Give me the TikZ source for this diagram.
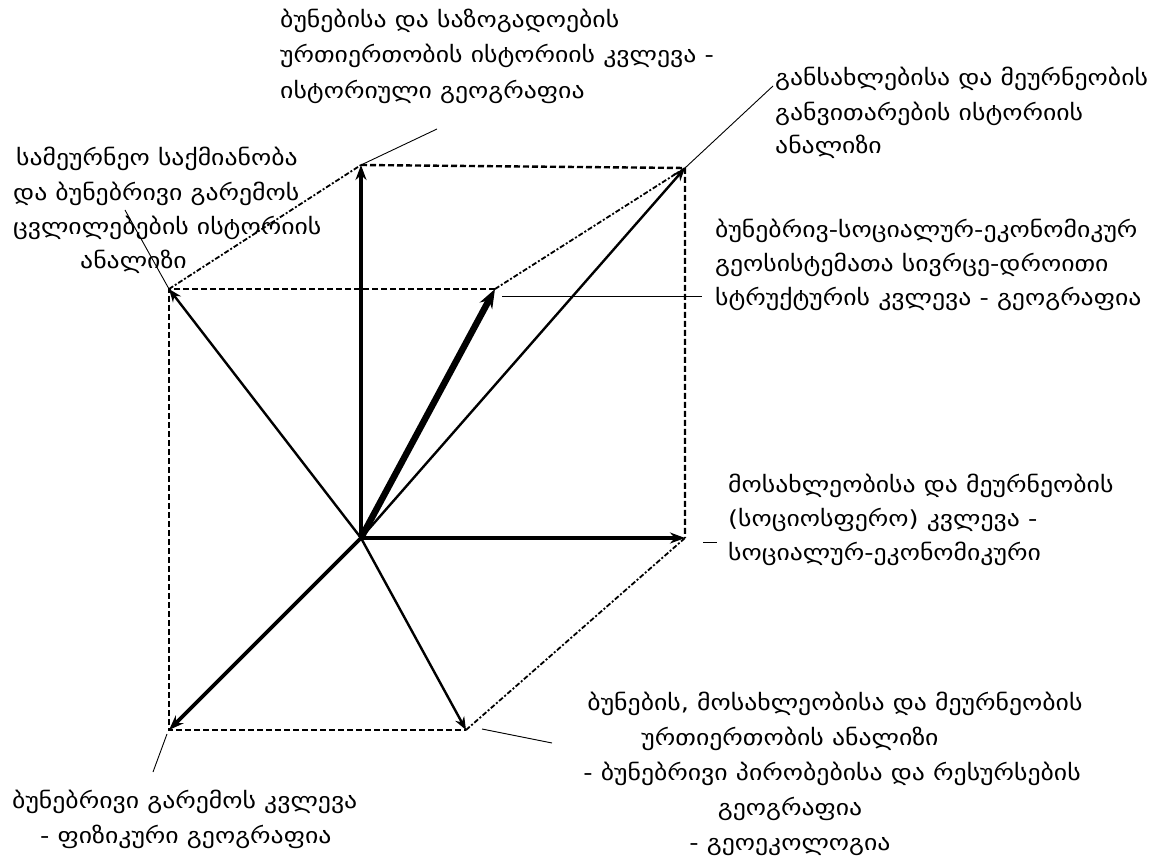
\documentclass[tikz,border=0pt]{standalone}
\usepackage{fontspec}
\setmainfont{DejaVu Sans}
\newfontfamily\geo[FakeStretch=1.17]{DejaVu Sans}
\usetikzlibrary{arrows.meta}
\begin{document}
\begin{tikzpicture}[x=1pt,y=-1pt,
  lbl/.style={font=\geo\fontsize{22}{24}\selectfont, inner sep=0pt, anchor=base west},
  lblc/.style={font=\geo\fontsize{22}{24}\selectfont, inner sep=0pt, anchor=base},
  vthickar/.style={line width=6.5pt, -{Stealth[length=19pt,width=14pt]}},
  thickar/.style={line width=3.8pt, -{Stealth[length=15pt,width=11pt]}},
  medar/.style={line width=2.4pt, -{Stealth[length=13pt,width=10pt]}},
  dsh/.style={line width=2.4pt, dash pattern=on 6pt off 3pt},
  ddiag/.style={line width=1.8pt, dash pattern=on 5pt off 2pt on 2pt off 2pt},
  leader/.style={line width=0.9pt}]
\useasboundingbox (0,0) rectangle (1159,858);
% corner points
\coordinate (O) at (361,538);
\coordinate (U) at (361,165);
\coordinate (TR) at (685,168);
\coordinate (R) at (685,538);
\coordinate (L) at (169,289);
\coordinate (M) at (495,289);
\coordinate (BL) at (169,730);
\coordinate (B) at (466,730);
% dashed frame
\draw[dsh] (U) -- (TR) -- (R);
\draw[dsh] (M) -- (L) -- (BL) -- (B);
\draw[ddiag] (L) -- (U);
\draw[ddiag] (M) -- (TR);
\draw[ddiag] (B) -- (R);
% arrows
\draw[thickar] (O) -- (U);
\draw[thickar] (O) -- (R);
\draw[thickar] (O) -- (BL);
\draw[vthickar] (O) -- (M);
\draw[medar] (O) -- (TR);
\draw[medar] (O) -- (L);
\draw[medar] (O) -- (B);
% leader ends
\coordinate (lu) at (437,129);
\coordinate (ltr) at (773,86);
\coordinate (ll) at (125,210);
\coordinate (lm1) at (502,296);
\coordinate (lm2) at (702,296);
\coordinate (lr1) at (703,542);
\coordinate (lr2) at (717,542);
\coordinate (lb1) at (482,729);
\coordinate (lb2) at (552,743);
\coordinate (lbl1) at (167,734);
\coordinate (lbl2) at (153,772);
\draw[leader] (U) -- (lu);
\draw[leader] (TR) -- (ltr);
\draw[leader] (L) -- (ll);
\draw[leader] (lm1) -- (lm2);
\draw[leader] (lr1) -- (lr2);
\draw[leader] (lb1) -- (lb2);
\draw[leader] (lbl1) -- (lbl2);
% labels
\node[lbl] (t1) at (280,28) {ბუნებისა და საზოგადოების};
\node[lbl] (t2) at (280,63) {ურთიერთობის ისტორიის კვლევა -};
\node[lbl] (t3) at (280,99) {ისტორიული გეოგრაფია};
\node[lbl] (tr1) at (775,86) {განსახლებისა და მეურნეობის};
\node[lbl] (tr2) at (775,121) {განვითარების ისტორიის};
\node[lbl] (tr3) at (775,154) {ანალიზი};
\node[lbl] (l1) at (16,166) {სამეურნეო საქმიანობა};
\node[lbl] (l2) at (13,201) {და ბუნებრივი გარემოს};
\node[lbl] (l3) at (13,235) {ცვლილებების ისტორიის};
\node[lbl] (l4) at (80,269) {ანალიზი};
\node[lbl] (m1) at (715,238) {ბუნებრივ-სოციალურ-ეკონომიკურ};
\node[lbl] (m2) at (715,272) {გეოსისტემათა სივრცე-დროითი};
\node[lbl] (m3) at (715,306) {სტრუქტურის კვლევა - გეოგრაფია};
\node[lbl] (r1) at (728,492) {მოსახლეობისა და მეურნეობის};
\node[lbl] (r2) at (728,526) {(სოციოსფერო) კვლევა -};
\node[lbl] (r3) at (728,560) {სოციალურ-ეკონომიკური};
\node[lblc] (b1) at (835,710) {ბუნების, მოსახლეობისა და მეურნეობის};
\node[lblc] (b2) at (790,745) {ურთიერთობის ანალიზი};
\node[lblc] (b3) at (832,780) {- ბუნებრივი პირობებისა და რესურსების};
\node[lblc] (b4) at (790,815) {გეოგრაფია};
\node[lblc] (b5) at (790,850) {- გეოეკოლოგია};
\node[lbl] (bl1) at (12,808) {ბუნებრივი გარემოს კვლევა};
\node[lbl] (bl2) at (40,843) {- ფიზიკური გეოგრაფია};
\end{tikzpicture}
\end{document}
